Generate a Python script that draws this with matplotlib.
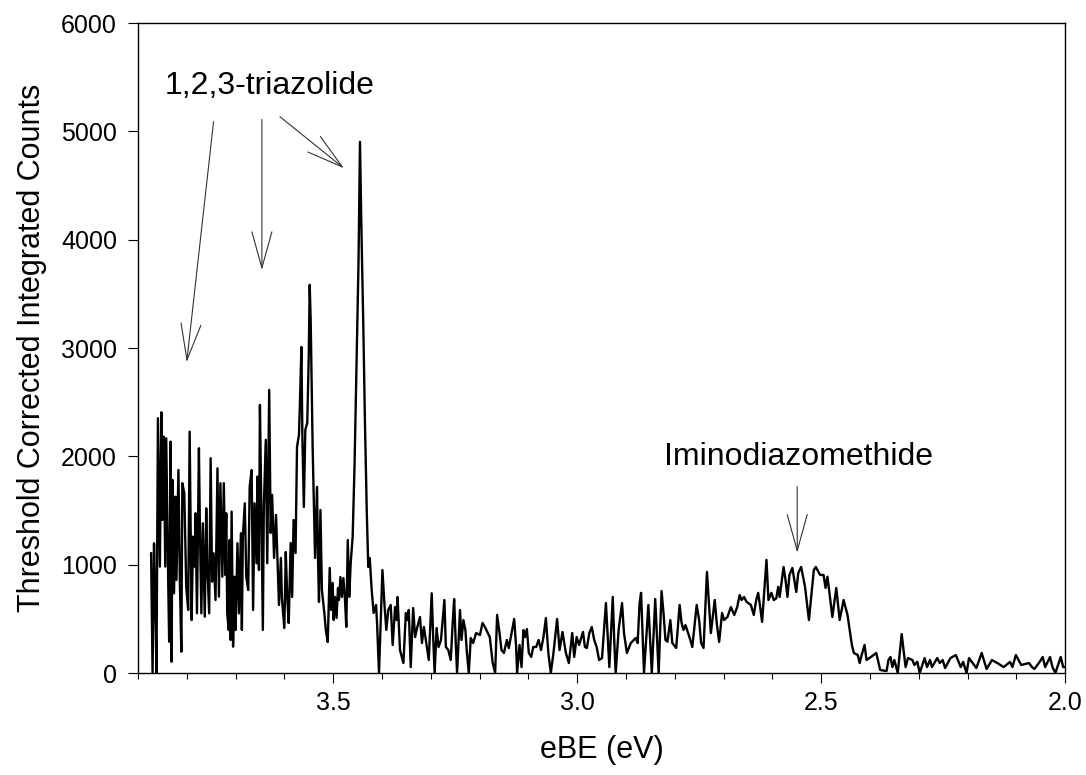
import matplotlib
matplotlib.use('Agg')
import matplotlib.pyplot as plt
from matplotlib.ticker import MultipleLocator, FormatStrFormatter

plt.rcParams['font.family'] = ['Liberation Sans', 'DejaVu Sans']

# photoelectron spectrum (eBE in eV, counts)
ebe = [3.873, 3.870, 3.867, 3.864, 3.862, 3.859, 3.855, 3.852, 3.850, 3.847, 3.844, 3.842, 3.838, 3.836,
       3.833, 3.831, 3.829, 3.826, 3.823, 3.821, 3.817, 3.814, 3.811, 3.809, 3.805, 3.801, 3.797, 3.794,
       3.790, 3.787, 3.784, 3.782, 3.779, 3.775, 3.773, 3.770, 3.767, 3.763, 3.760, 3.758, 3.754, 3.751,
       3.748, 3.745, 3.741, 3.737, 3.734, 3.731, 3.727, 3.724, 3.721, 3.719, 3.717, 3.714, 3.712, 3.710,
       3.708, 3.705, 3.702, 3.700, 3.696, 3.693, 3.689, 3.687, 3.685, 3.681, 3.678, 3.674, 3.671, 3.667,
       3.664, 3.661, 3.657, 3.655, 3.652, 3.650, 3.647, 3.644, 3.642, 3.638, 3.635, 3.631, 3.628, 3.625,
       3.621, 3.617, 3.611, 3.607, 3.605, 3.600, 3.597, 3.594, 3.591, 3.587, 3.584, 3.581, 3.577, 3.574,
       3.570, 3.568, 3.565, 3.563, 3.560, 3.557, 3.553, 3.550, 3.548, 3.546, 3.542, 3.540, 3.537, 3.533,
       3.531, 3.529, 3.526, 3.523, 3.518, 3.515, 3.511, 3.507, 3.504, 3.501, 3.499, 3.496, 3.493, 3.490,
       3.488, 3.485, 3.482, 3.479, 3.476, 3.473, 3.470, 3.467, 3.464, 3.460, 3.456, 3.452, 3.448, 3.445,
       3.442, 3.438, 3.435, 3.431, 3.428, 3.425, 3.421, 3.417, 3.412, 3.410, 3.406, 3.403, 3.399, 3.395,
       3.391, 3.387, 3.382, 3.378, 3.373, 3.370, 3.368, 3.363, 3.356, 3.351, 3.348, 3.345, 3.341, 3.336,
       3.332, 3.328, 3.322, 3.318, 3.314, 3.310, 3.307, 3.304, 3.298, 3.295, 3.292, 3.288, 3.284, 3.279,
       3.272, 3.269, 3.264, 3.259, 3.255, 3.252, 3.249, 3.246, 3.240, 3.237, 3.233, 3.229, 3.226, 3.222,
       3.218, 3.213, 3.207, 3.199, 3.194, 3.189, 3.179, 3.173, 3.168, 3.164, 3.159, 3.155, 3.150, 3.144,
       3.140, 3.129, 3.125, 3.123, 3.118, 3.114, 3.110, 3.107, 3.103, 3.099, 3.094, 3.090, 3.084, 3.079,
       3.074, 3.069, 3.064, 3.059, 3.054, 3.049, 3.041, 3.036, 3.030, 3.023, 3.017, 3.010, 3.006, 3.001,
       2.996, 2.988, 2.984, 2.980, 2.975, 2.970, 2.965, 2.960, 2.955, 2.949, 2.941, 2.937, 2.934, 2.927,
       2.924, 2.921, 2.915, 2.908, 2.904, 2.898, 2.890, 2.880, 2.876, 2.872, 2.869, 2.863, 2.854, 2.847,
       2.840, 2.833, 2.827, 2.823, 2.819, 2.815, 2.809, 2.805, 2.797, 2.790, 2.786, 2.782, 2.778, 2.768,
       2.764, 2.755, 2.750, 2.746, 2.741, 2.734, 2.726, 2.718, 2.714, 2.709, 2.703, 2.699, 2.692, 2.685,
       2.678, 2.672, 2.667, 2.663, 2.658, 2.653, 2.644, 2.638, 2.633, 2.629, 2.625, 2.621, 2.612, 2.608,
       2.602, 2.597, 2.592, 2.588, 2.585, 2.577, 2.573, 2.569, 2.565, 2.559, 2.551, 2.547, 2.541, 2.533,
       2.525, 2.515, 2.511, 2.502, 2.495, 2.491, 2.487, 2.477, 2.469, 2.462, 2.454, 2.446, 2.437, 2.433,
       2.425, 2.421, 2.417, 2.411, 2.407, 2.398, 2.387, 2.379, 2.366, 2.362, 2.358, 2.354, 2.350, 2.343,
       2.335, 2.327, 2.322, 2.313, 2.309, 2.303, 2.298, 2.288, 2.283, 2.277, 2.273, 2.262, 2.257, 2.251,
       2.246, 2.235, 2.224, 2.214, 2.209, 2.202, 2.197, 2.182, 2.171, 2.161, 2.150, 2.139, 2.126, 2.113,
       2.108, 2.101, 2.090, 2.074, 2.068, 2.063, 2.052, 2.046, 2.041, 2.031, 2.026, 2.020, 2.009, 2.004,
       2.001]

counts = [1105, 0, 1198, 551, 0, 2352, 982, 2407, 1413, 2182, 982, 2167, 859, 289,
          2136, 104, 1782, 736, 1628, 859, 1874, 828, 197, 1752, 1659, 797, 582, 2228,
          489, 1259, 982, 1475, 551, 2075, 1351, 551, 1382, 520, 1521, 1013, 551, 1983,
          843, 1105, 674, 1890, 705, 1752, 889, 1752, 905, 1475, 551, 397, 1228, 305,
          1490, 243, 889, 397, 1198, 551, 1290, 397, 1259, 1567, 889, 766, 1720, 1874,
          582, 1567, 1013, 1813, 951, 2475, 1475, 397, 1536, 2152, 1013, 2613, 1293, 1644,
          1062, 1459, 628, 1062, 692, 415, 1117, 692, 462, 1200, 702, 1413, 1108, 2087,
          2198, 2493, 3010, 2179, 1533, 2244, 2309, 2918, 3583, 3260, 2087, 1690, 1062, 1718,
          1062, 656, 1505, 766, 554, 397, 286, 970, 582, 831, 489, 702, 508, 785,
          674, 886, 702, 877, 702, 425, 1228, 702, 1016, 1256, 1939, 2862, 3786, 4903,
          4090, 3167, 2364, 1477, 979, 1062, 766, 554, 628, 462, 0, 397, 951, 646,
          397, 582, 628, 259, 609, 489, 702, 212, 92, 554, 489, 582, 55, 600,
          332, 415, 517, 277, 425, 305, 212, 120, 736, 332, 0, 415, 240, 305,
          674, 240, 212, 120, 462, 683, 305, 0, 582, 305, 489, 397, 194, 0,
          323, 277, 369, 351, 462, 425, 332, 92, 0, 536, 369, 212, 185, 305,
          231, 499, 240, 0, 259, 55, 397, 332, 406, 185, 148, 240, 240, 305,
          212, 332, 508, 185, 0, 166, 499, 212, 379, 185, 92, 369, 148, 332,
          259, 379, 240, 231, 369, 425, 305, 240, 120, 138, 646, 305, 55, 702,
          305, 0, 397, 646, 369, 185, 277, 323, 277, 646, 740, 0, 628, 0,
          683, 0, 757, 554, 305, 289, 489, 277, 231, 628, 462, 397, 443, 305,
          240, 628, 489, 277, 231, 933, 369, 674, 462, 286, 554, 489, 517, 609,
          536, 609, 720, 674, 702, 658, 628, 536, 674, 740, 612, 471, 1044, 674,
          740, 674, 689, 795, 702, 979, 859, 702, 905, 970, 748, 920, 979, 795,
          489, 951, 979, 905, 905, 785, 889, 517, 785, 489, 674, 536, 259, 185,
          166, 92, 166, 259, 120, 148, 185, 28, 18, 120, 148, 55, 120, 0,
          360, 55, 138, 120, 74, 104, 0, 138, 55, 120, 55, 138, 92, 120,
          46, 138, 166, 55, 102, 0, 138, 46, 185, 37, 120, 92, 55, 102,
          55, 166, 74, 92, 55, 37, 104, 148, 55, 148, 55, 0, 148, 55,
          55]

x_ticks = [3.5, 3.0, 2.5, 2.0]
y_ticks = [0, 1000, 2000, 3000, 4000, 5000, 6000]

triazolide_label = '1,2,3-triazolide'
triazolide_text_pos = (3.630, 5420)
# (tail, head) of each arrow
triazolide_arrows = [((3.745, 5090), (3.800, 2870)),
                     ((3.646, 5110), (3.646, 3720)),
                     ((3.609, 5135), (3.478, 4660))]

imino_label = 'Iminodiazomethide'
imino_text_pos = (2.547, 1990)
imino_arrow = ((2.549, 1720), (2.549, 1110))

fig = plt.figure(figsize=(10.86, 7.75), dpi=100)
ax = fig.add_axes([0.127, 0.1316, 0.8538, 0.8387])

ax.plot(ebe, counts, color='black', linewidth=1.7)

ax.set_xlim(3.9, 2.0)
ax.set_ylim(0, 6000)
ax.set_xticks(x_ticks)
ax.xaxis.set_minor_locator(MultipleLocator(0.1))
ax.xaxis.set_major_formatter(FormatStrFormatter('%.1f'))
ax.set_yticks(y_ticks)

ax.tick_params(axis='both', which='major', direction='out', length=7, width=0.8,
               labelsize=18, pad=6)
ax.tick_params(axis='x', which='minor', direction='out', length=4.3, width=0.8)
ax.tick_params(axis='y', which='major', pad=8)
for sp in ax.spines.values():
    sp.set_linewidth(1.0)

ax.set_xlabel('eBE (eV)', fontsize=22, labelpad=14)
ax.set_ylabel('Threshold Corrected Integrated Counts', fontsize=22, labelpad=10)

arrow_style = dict(arrowstyle='->,head_length=1.3,head_width=0.36', mutation_scale=20,
                   color='#333333', linewidth=0.8, shrinkA=0, shrinkB=0)

ax.text(*triazolide_text_pos, triazolide_label, fontsize=23, ha='center', va='center')
for tail, head in triazolide_arrows:
    ax.annotate('', xy=head, xytext=tail, arrowprops=arrow_style)

ax.text(*imino_text_pos, imino_label, fontsize=23, ha='center', va='center')
ax.annotate('', xy=imino_arrow[1], xytext=imino_arrow[0], arrowprops=arrow_style)

fig.savefig('out.png', dpi=100)
